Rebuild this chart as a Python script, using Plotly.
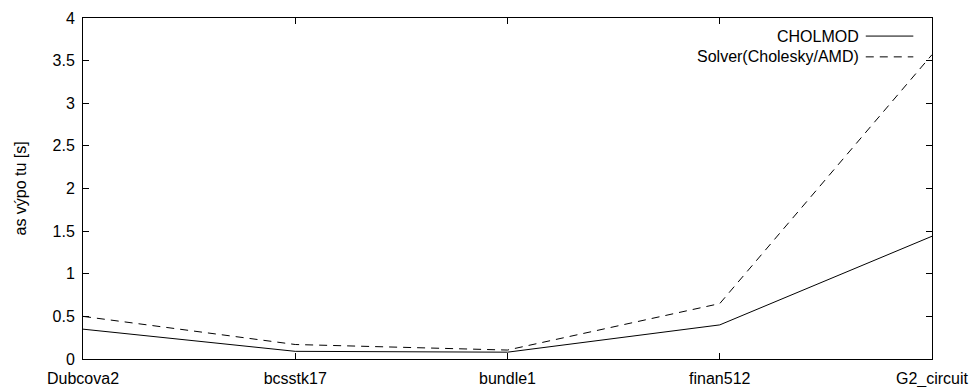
import plotly.graph_objects as go

categories = ["Dubcova2", "bcsstk17", "bundle1", "finan512", "G2_circuit"]
cholmod = [0.35, 0.09, 0.08, 0.40, 1.44]
solver_amd = [0.50, 0.17, 0.105, 0.65, 3.57]
series_names = ["CHOLMOD", "Solver(Cholesky/AMD)"]
y_ticks = [0, 0.5, 1, 1.5, 2, 2.5, 3, 3.5, 4]
y_tick_text = ["0", "0.5", "1", "1.5", "2", "2.5", "3", "3.5", "4"]
y_title = "as výpo tu [s]"

FONT = "Liberation Sans, Arial, sans-serif"
FS = 16

fig = go.Figure()
fig.add_trace(go.Scatter(x=categories, y=cholmod, mode="lines", name=series_names[0],
                         line=dict(color="black", width=1), showlegend=False))
fig.add_trace(go.Scatter(x=categories, y=solver_amd, mode="lines", name=series_names[1],
                         line=dict(color="black", width=1, dash="8px,6px"), showlegend=False))

# gnuplot-style key: text right-aligned, sample on the right
key_rows = [(series_names[0], "solid", 0.947), (series_names[1], "8px,6px", 0.886)]
for name, dash, yp in key_rows:
    fig.add_annotation(x=0.916, y=yp, xref="paper", yref="paper", text=name, showarrow=False,
                       xanchor="right", yanchor="middle", font=dict(family=FONT, size=FS, color="black"))
    fig.add_shape(type="line", xref="paper", yref="paper", x0=0.922, x1=0.978, y0=yp, y1=yp,
                  line=dict(color="black", width=1, dash=dash))

# y-axis title placed like gnuplot's ylabel
fig.add_annotation(x=0, y=0.5, xref="paper", yref="paper", text=y_title, showarrow=False,
                   textangle=-90, xanchor="center", yanchor="middle", xshift=-63,
                   font=dict(family=FONT, size=FS, color="black"))

fig.update_layout(
    width=972, height=387,
    margin=dict(l=83, r=40, t=18, b=28, autoexpand=False),
    paper_bgcolor="white", plot_bgcolor="white",
    font=dict(family=FONT, size=FS, color="black"),
    xaxis=dict(type="category", range=[0, 4], showgrid=False, zeroline=False,
               showline=True, linecolor="black", linewidth=1, mirror="ticks",
               ticks="inside", ticklen=6, tickcolor="black", automargin=False,
               ticklabelstandoff=5, tickfont=dict(family=FONT, size=FS)),
    yaxis=dict(range=[0, 4], tickvals=y_ticks, ticktext=y_tick_text, showgrid=False, zeroline=False,
               showline=True, linecolor="black", linewidth=1, mirror="ticks",
               ticks="inside", ticklen=6, tickcolor="black", automargin=False,
               ticklabelstandoff=4, tickfont=dict(family=FONT, size=FS)),
)

# remove the default 8px page margin so the figure fills the window exactly
fig.write_html("out.html", config={"displayModeBar": False},
               post_script="document.body.style.margin='0';")
